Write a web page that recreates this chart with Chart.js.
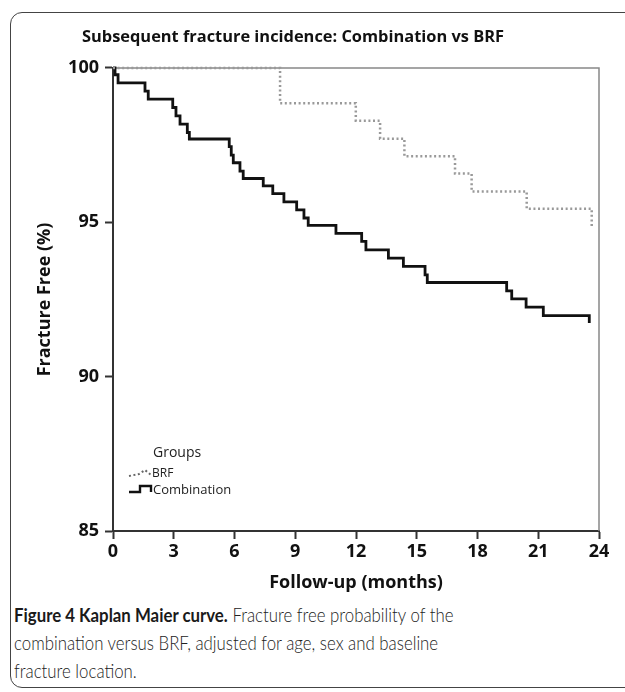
<!DOCTYPE html>
<html>
<head>
<meta charset="utf-8">
<script src="https://cdn.jsdelivr.net/npm/chart.js@4.4.1/dist/chart.umd.min.js"></script>
<style>
  body { margin: 0; width: 625px; height: 692px; overflow: hidden; background: #fff; position: relative; }
  .frame { position: absolute; left: 10px; top: 12px; width: 700px; height: 674px; border: 1.5px solid #444; border-radius: 12px; }
  #wrap { position: absolute; left: -13px; top: 0; width: 638px; height: 600px; }
  .caption { position: absolute; left: 14px; top: 601px; margin: 0; font-family: Lato, "Open Sans", sans-serif; font-size: 19px; line-height: 28px; color: #222; white-space: nowrap; font-weight: 300; transform: scaleX(0.885); transform-origin: left top; }
  .caption b { font-weight: 700; color: #1a1a1a; }
</style>
</head>
<body>
<div class="frame"></div>
<div id="wrap"><canvas id="kmChart" width="638" height="600"></canvas></div>
<p class="caption"><b>Figure 4 Kaplan Maier curve.</b> Fracture free probability of the<br>combination versus BRF, adjusted for age, sex and baseline<br>fracture location.</p>
<script>
// follow-up months where the curve steps down, and the survival (%) after each step
var combTimes  = [0, 0.1, 0.25, 1.58, 1.74, 2.95, 3.11, 3.31, 3.67, 3.77, 5.74, 5.84, 5.94, 6.27, 6.43, 7.42, 7.89, 8.44, 9.07, 9.43, 9.64, 11.01, 12.28, 12.49, 13.6, 14.34, 15.41, 15.52, 19.44, 19.69, 20.4, 21.25, 23.52];
var combValues = [100, 99.78, 99.52, 99.25, 98.99, 98.72, 98.45, 98.18, 97.91, 97.7, 97.45, 97.18, 96.93, 96.66, 96.42, 96.18, 95.93, 95.66, 95.4, 95.14, 94.9, 94.64, 94.38, 94.11, 93.84, 93.57, 93.3, 93.05, 92.78, 92.52, 92.25, 91.98, 91.74];

var brfTimes  = [0, 8.25, 11.99, 13.19, 14.39, 16.89, 17.71, 20.43, 23.64];
var brfValues = [100, 98.86, 98.29, 97.71, 97.14, 96.58, 96.0, 95.44, 94.88];

var xTickValues = [0, 3, 6, 9, 12, 15, 18, 21, 24];
var yTickValues = [85, 90, 95, 100];
var groupLabels = ['BRF', 'Combination'];

var fontFam = '"Open Sans", "DejaVu Sans", sans-serif';

function toPoints(times, values){
    var pts = [];
    for(var i=0; i<times.length; i++){
        pts.push({x: times[i], y: values[i]});
    }
    return pts;
}

// gray frame on top/right of the plot + the little "Groups" key
var framePlugin = {
    id: 'framePlugin',
    beforeDatasetsDraw: function(chart){
        var a = chart.chartArea, ctx = chart.ctx;
        ctx.save();
        ctx.strokeStyle = '#888';
        ctx.lineWidth = 1.5;
        ctx.beginPath();
        ctx.moveTo(a.left, a.top);
        ctx.lineTo(a.right, a.top);
        ctx.lineTo(a.right, a.bottom);
        ctx.stroke();
        ctx.restore();
    },
    afterDatasetsDraw: function(chart){
        var a = chart.chartArea, ctx = chart.ctx;
        var x0 = a.left + 16, yB = a.bottom - 58, yC = a.bottom - 41;
        ctx.save();
        ctx.fillStyle = '#222';
        ctx.textBaseline = 'middle';
        ctx.font = '14px ' + fontFam;
        ctx.fillText('Groups', a.left + 40, a.bottom - 78);

        // BRF dotted key
        ctx.strokeStyle = '#666';
        ctx.lineWidth = 2;
        ctx.setLineDash([2, 2.5]);
        ctx.beginPath();
        ctx.moveTo(x0, yB + 3);
        ctx.lineTo(x0 + 10, yB + 1);
        ctx.lineTo(x0 + 16, yB - 3);
        ctx.lineTo(x0 + 22, yB + 2);
        ctx.stroke();
        ctx.setLineDash([]);

        // Combination solid key
        ctx.strokeStyle = '#111';
        ctx.lineWidth = 2.4;
        ctx.beginPath();
        ctx.moveTo(x0, yC + 2);
        ctx.lineTo(x0 + 11, yC + 2);
        ctx.lineTo(x0 + 11, yC - 4);
        ctx.lineTo(x0 + 22, yC - 4);
        ctx.lineTo(x0 + 22, yC + 2);
        ctx.stroke();

        ctx.font = '12px ' + fontFam;
        ctx.fillText(groupLabels[0], x0 + 23, yB + 1);
        ctx.font = '13px ' + fontFam;
        ctx.fillText(groupLabels[1], x0 + 24, yC);
        ctx.restore();
    }
};

new Chart(document.getElementById('kmChart'), {
    type: 'line',
    data: {
        datasets: [{
            label: groupLabels[0],
            data: toPoints(brfTimes, brfValues),
            stepped: 'before',
            borderColor: '#999',
            borderWidth: 2.5,
            borderDash: [2, 2.6],
            pointRadius: 0,
            fill: false,
            clip: 4
        }, {
            label: groupLabels[1],
            data: toPoints(combTimes, combValues),
            stepped: 'before',
            borderColor: '#111',
            borderWidth: 2.8,
            pointRadius: 0,
            fill: false,
            clip: 4
        }]
    },
    options: {
        responsive: false,
        animation: false,
        devicePixelRatio: 1,
        layout: { padding: { left: 0, right: 26, top: 0, bottom: 0 } },
        plugins: {
            legend: { display: false },
            tooltip: { enabled: false },
            title: {
                display: true,
                text: 'Subsequent fracture incidence: Combination vs BRF',
                color: '#111',
                font: { family: fontFam, size: 16.4, weight: 'bold' },
                padding: { top: 27, bottom: 21.3 }
            }
        },
        scales: {
            x: {
                type: 'linear',
                min: 0,
                max: 24,
                afterBuildTicks: function(scale){
                    scale.ticks = xTickValues.map(function(v){ return {value: v}; });
                },
                afterFit: function(scale){ scale.height = 69; },
                border: { color: '#333', width: 2 },
                grid: { drawOnChartArea: false, tickLength: 8, tickColor: '#333', tickWidth: 2 },
                ticks: { color: '#111', padding: 2, font: { family: fontFam, size: 18, weight: 'bold' }, maxRotation: 0 },
                title: {
                    display: true,
                    text: 'Follow-up (months)',
                    color: '#111',
                    font: { family: fontFam, size: 18, weight: 'bold' },
                    padding: { top: 0, bottom: 6.2 }
                }
            },
            y: {
                type: 'linear',
                min: 85,
                max: 100,
                afterBuildTicks: function(scale){
                    scale.ticks = yTickValues.map(function(v){ return {value: v}; });
                },
                afterFit: function(scale){ scale.width = 126; },
                border: { color: '#333', width: 2 },
                grid: { drawOnChartArea: false, tickLength: 8, tickColor: '#333', tickWidth: 2 },
                ticks: { color: '#111', padding: 6, font: { family: fontFam, size: 18, weight: 'bold' } },
                title: {
                    display: true,
                    text: 'Fracture Free (%)',
                    color: '#111',
                    font: { family: fontFam, size: 18, weight: 'bold' },
                    padding: { top: 47.2, bottom: 0 }
                }
            }
        }
    },
    plugins: [framePlugin]
});
</script>
</body>
</html>
